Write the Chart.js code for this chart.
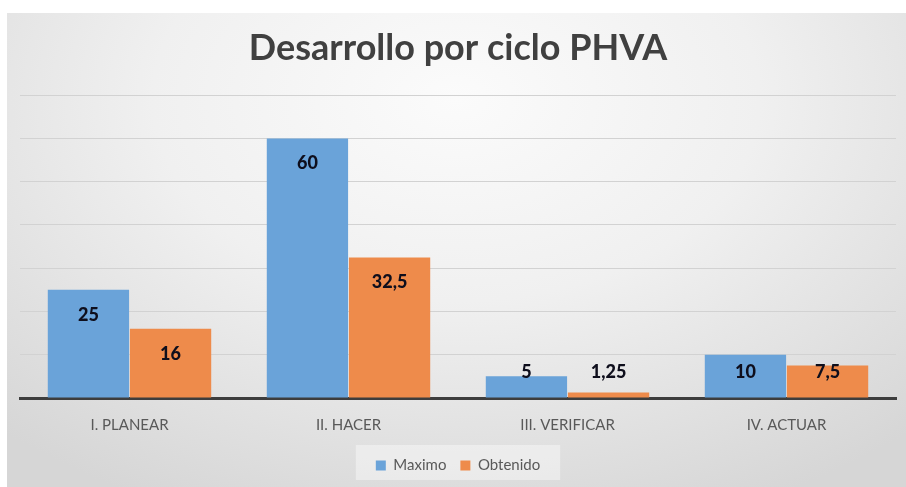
<!DOCTYPE html>
<html>
<head>
<meta charset="utf-8">
<script src="https://cdn.jsdelivr.net/npm/chart.js@4.4.1/dist/chart.umd.min.js"></script>
<style>
  body { margin: 0; background: #fff; }
  #marco {
    position: absolute; left: 7px; top: 13px; width: 899px; height: 474px;
    background: radial-gradient(ellipse 75% 95% at 50% 18%, #fbfbfb 0%, #f0f0f0 45%, #d6d6d6 100%);
  }
  #marco canvas { display: block; }
</style>
</head>
<body>
<div id="marco"><canvas id="myChart" width="899" height="474"></canvas></div>
<script>
// datos del grafico
const categorias = ['I. PLANEAR', 'II. HACER', 'III. VERIFICAR', 'IV. ACTUAR'];
const maximo = [25, 60, 5, 10];
const obtenido = [16, 32.5, 1.25, 7.5];
const ticksY = [0, 10, 20, 30, 40, 50, 60, 70];

const fuente = "Lato, 'Open Sans', sans-serif";

// etiquetas con coma decimal, dentro del extremo de la barra
const etiquetas = {
  id: 'etiquetas',
  afterDatasetsDraw(chart) {
    const ctx = chart.ctx;
    const base = chart.scales.y.getPixelForValue(0);
    ctx.save();
    ctx.font = "900 18px " + fuente;
    ctx.fillStyle = '#0e0e1c';
    ctx.textAlign = 'center';
    ctx.textBaseline = 'middle';
    chart.data.datasets.forEach((ds, i) => {
      chart.getDatasetMeta(i).data.forEach((bar, j) => {
        const texto = String(ds.data[j]).replace('.', ',');
        const y = Math.min(bar.y + 25, base - 26);
        ctx.fillText(texto, bar.x, y);
      });
    });
    ctx.restore();
  }
};

// caja clara detras de la leyenda
const fondoLeyenda = {
  id: 'fondoLeyenda',
  beforeDraw(chart) {
    const l = chart.legend;
    const ctx = chart.ctx;
    let x1 = Infinity, x2 = -Infinity;
    l.legendHitBoxes.forEach(b => { x1 = Math.min(x1, b.left); x2 = Math.max(x2, b.left + b.width); });
    ctx.save();
    ctx.fillStyle = 'rgba(255,255,255,0.4)';
    ctx.fillRect(x1 - 20, l.top + 1, x2 - x1 + 40, l.height - 4);
    ctx.restore();
  }
};

const ctx = document.getElementById('myChart').getContext('2d');

new Chart(ctx, {
  type: 'bar',
  data: {
    labels: categorias,
    datasets: [
      {
        label: 'Maximo',
        data: maximo,
        backgroundColor: '#6aa3d9',
        categoryPercentage: 0.75,
        barPercentage: 0.99
      },
      {
        label: 'Obtenido',
        data: obtenido,
        backgroundColor: '#ee8b4b',
        categoryPercentage: 0.75,
        barPercentage: 0.99
      }
    ]
  },
  options: {
    responsive: false,
    animation: false,
    layout: { padding: { left: 13, right: 10, top: 0, bottom: 4 } },
    scales: {
      x: {
        grid: { display: false },
        border: { color: '#3d3d3d', width: 3 },
        ticks: { color: '#595959', font: { family: fuente, size: 15 }, padding: 10 }
      },
      y: {
        min: ticksY[0],
        max: ticksY[ticksY.length - 1],
        afterBuildTicks(scale) { scale.ticks = ticksY.map(v => ({ value: v })); },
        ticks: { display: false },
        border: { display: false },
        grid: { color: '#d2d2d2', lineWidth: 1, drawTicks: false }
      }
    },
    plugins: {
      title: {
        display: true,
        text: 'Desarrollo por ciclo PHVA',
        color: '#404040',
        font: { family: fuente, size: 36, weight: 'bold' },
        padding: { top: 14, bottom: 25 }
      },
      legend: {
        position: 'bottom',
        labels: {
          color: '#595959',
          font: { family: fuente, size: 15 },
          boxWidth: 10,
          boxHeight: 10,
          padding: 14
        }
      },
      tooltip: { enabled: false }
    }
  },
  plugins: [etiquetas, fondoLeyenda]
});
</script>
</body>
</html>
